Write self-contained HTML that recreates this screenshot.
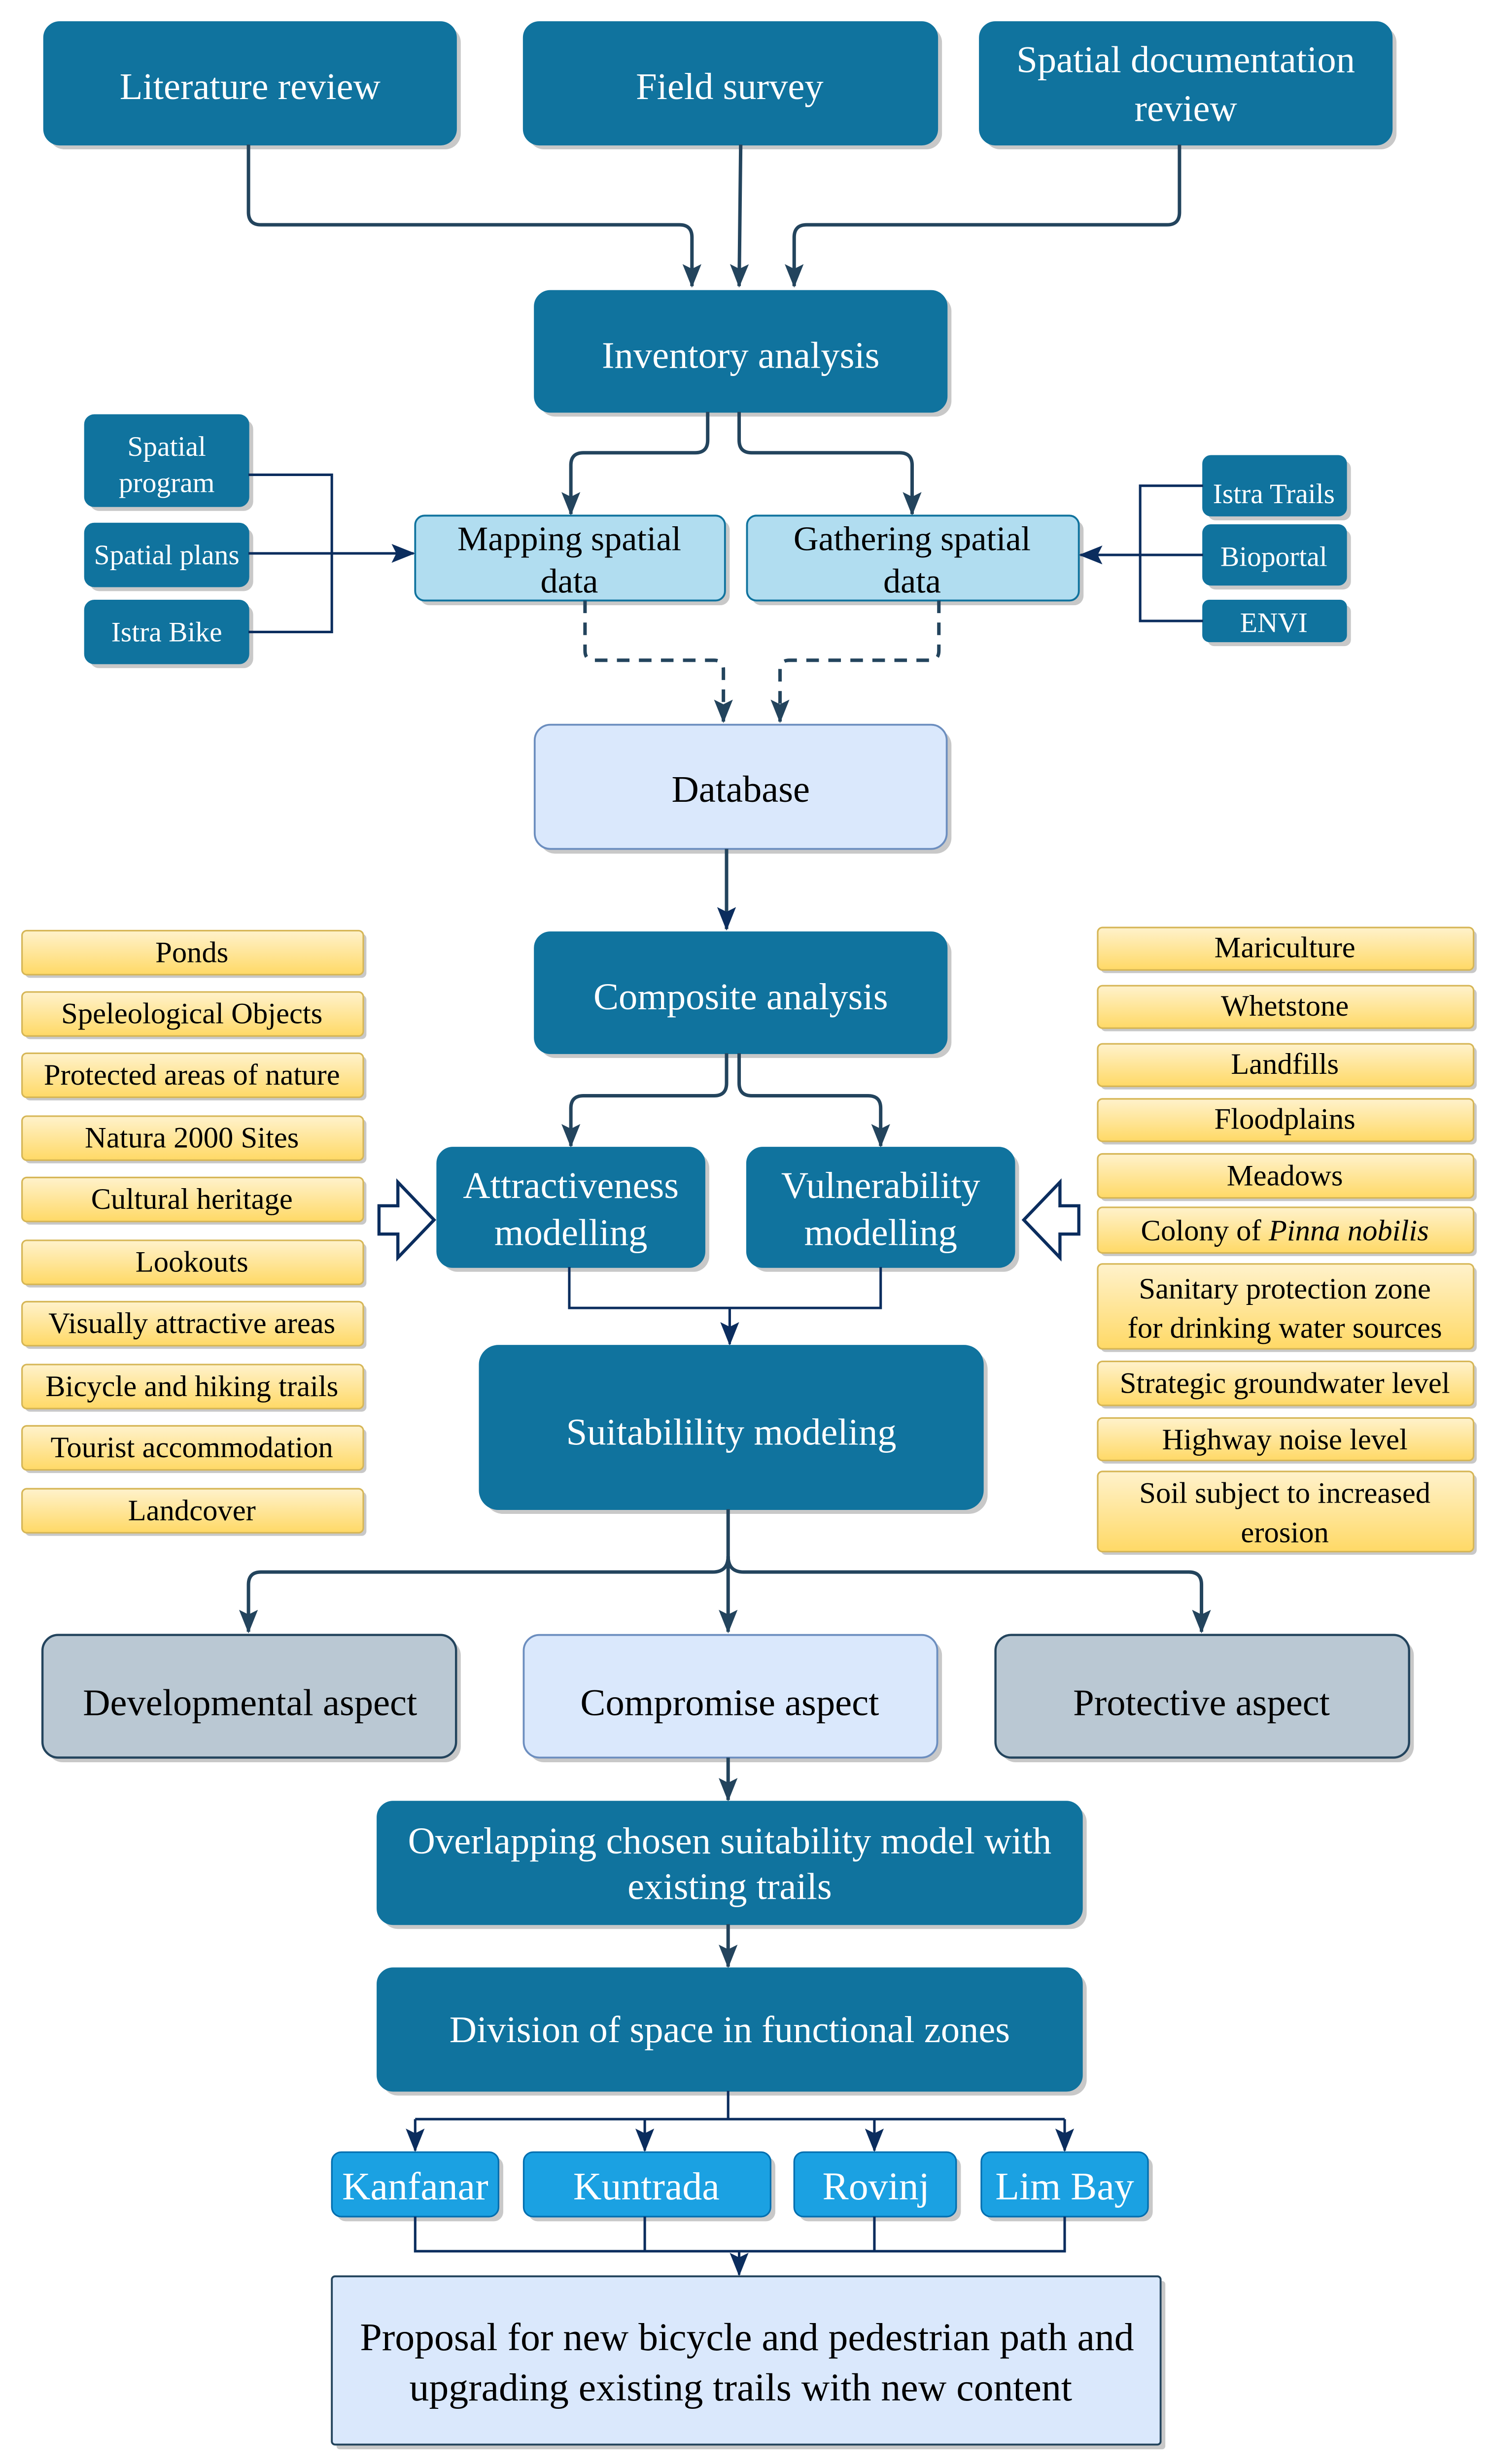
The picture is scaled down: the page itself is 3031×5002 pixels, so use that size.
<!DOCTYPE html>
<html><head><meta charset="utf-8"><style>
html,body{margin:0;padding:0;background:#fff;width:3031px;height:5002px;overflow:hidden;}
svg{display:block;}
text{font-family:"Liberation Serif","Times New Roman",serif;text-anchor:middle;}
.w{fill:#fff;} .k{fill:#000;}
.d{fill:#10739e;stroke:#10739e;}
.ln{fill:none;stroke:#23445d;stroke-width:2.2;}
.ln2{fill:none;stroke:#0b2d5e;stroke-width:1.6;}
.sh{fill:#c8c8c8;}
</style></head><body>
<svg width="3031" height="5002" viewBox="0 0 950 1568" preserveAspectRatio="none" xmlns="http://www.w3.org/2000/svg">
<defs>
<linearGradient id="yg" x1="0" y1="0" x2="0" y2="1"><stop offset="0" stop-color="#fff2cc"/><stop offset="1" stop-color="#ffd966"/></linearGradient>
<marker id="a" markerWidth="16" markerHeight="12" refX="14" refY="6" orient="auto" markerUnits="userSpaceOnUse"><path d="M0,0 L15,6 L0,12 L3,6 Z" fill="#23445d"/></marker>
<marker id="b" markerWidth="16" markerHeight="12" refX="14" refY="6" orient="auto" markerUnits="userSpaceOnUse"><path d="M0,0 L15,6 L0,12 L3,6 Z" fill="#0b2d5e"/></marker>
</defs>

<g>
<rect x="31" y="17" width="262" height="78" rx="10" class="sh"/><rect x="28" y="14" width="262" height="78" rx="10" class="d"/>
<rect x="336" y="17" width="263" height="78" rx="10" class="sh"/><rect x="333" y="14" width="263" height="78" rx="10" class="d"/>
<rect x="626" y="17" width="262" height="78" rx="10" class="sh"/><rect x="623" y="14" width="262" height="78" rx="10" class="d"/>
<text x="159" y="63" font-size="24" class="w">Literature review</text>
<text x="464" y="63" font-size="24" class="w">Field survey</text>
<text x="754" y="46" font-size="24" class="w">Spatial documentation</text>
<text x="754" y="77" font-size="24" class="w">review</text>

<path class="ln" d="M158,92 V135 Q158,143 166,143 H432 Q440,143 440,151 V182" marker-end="url(#a)"/>
<path class="ln" d="M471,92 L470,182" marker-end="url(#a)"/>
<path class="ln" d="M750,92 V135 Q750,143 742,143 H513 Q505,143 505,151 V182" marker-end="url(#a)"/>

<rect x="343" y="188" width="262" height="77" rx="10" class="sh"/><rect x="340" y="185" width="262" height="77" rx="10" class="d"/>
<text x="471" y="234" font-size="24" class="w">Inventory analysis</text>

<path class="ln" d="M450,262 V280 Q450,288 442,288 H371 Q363,288 363,296 V327" marker-end="url(#a)"/>
<path class="ln" d="M470,262 V280 Q470,288 478,288 H572 Q580,288 580,296 V327" marker-end="url(#a)"/>

<rect x="267" y="331" width="197" height="54" rx="6" class="sh"/><rect x="264" y="328" width="197" height="54" rx="6" fill="#b1ddf0" stroke="#10739e" stroke-width="1.2"/>
<rect x="478" y="331" width="211" height="54" rx="6" class="sh"/><rect x="475" y="328" width="211" height="54" rx="6" fill="#b1ddf0" stroke="#10739e" stroke-width="1.2"/>
<text x="362" y="350" font-size="22" class="k">Mapping spatial</text>
<text x="362" y="377" font-size="22" class="k">data</text>
<text x="580" y="350" font-size="22" class="k">Gathering spatial</text>
<text x="580" y="377" font-size="22" class="k">data</text>

<rect x="57" y="267" width="104" height="58" rx="6" class="sh"/><rect x="54" y="264" width="104" height="58" rx="6" class="d"/>
<rect x="57" y="336" width="104" height="40" rx="6" class="sh"/><rect x="54" y="333" width="104" height="40" rx="6" class="d"/>
<rect x="57" y="385" width="104" height="40" rx="6" class="sh"/><rect x="54" y="382" width="104" height="40" rx="6" class="d"/>
<text x="106" y="290" font-size="18" class="w">Spatial</text>
<text x="106" y="313" font-size="18" class="w">program</text>
<text x="106" y="359" font-size="18" class="w">Spatial plans</text>
<text x="106" y="408" font-size="18" class="w">Istra Bike</text>
<path class="ln2" d="M158,302 H211 V402 H158"/>
<path class="ln2" d="M158,352 H263" marker-end="url(#b)"/>

<rect x="768" y="293" width="91" height="38" rx="5" class="sh"/><rect x="765" y="290" width="91" height="38" rx="5" class="d"/>
<rect x="768" y="337" width="91" height="38" rx="5" class="sh"/><rect x="765" y="334" width="91" height="38" rx="5" class="d"/>
<rect x="768" y="385" width="91" height="26" rx="4" class="sh"/><rect x="765" y="382" width="91" height="26" rx="4" class="d"/>
<text x="810" y="320" font-size="18" class="w">Istra Trails</text>
<text x="810" y="360" font-size="18" class="w">Bioportal</text>
<text x="810" y="402" font-size="18" class="w">ENVI</text>
<path class="ln2" d="M765,309 H725 V395 H765"/>
<path class="ln2" d="M765,353 H687" stroke-width="2.4" marker-end="url(#b)"/>

<path class="ln" stroke-dasharray="8,6" d="M372,382 V414 Q372,420 378,420 H454 Q460,420 460,426 V459" marker-end="url(#a)"/>
<path class="ln" stroke-dasharray="8,6" d="M597,382 V414 Q597,420 591,420 H502 Q496,420 496,426 V459" marker-end="url(#a)"/>

<rect x="343" y="464" width="262" height="79" rx="10" class="sh"/><rect x="340" y="461" width="262" height="79" rx="10" fill="#dae8fc" stroke="#6c8ebf" stroke-width="1.2"/>
<text x="471" y="510" font-size="24" class="k">Database</text>
<path class="ln" stroke="#0b1f3a" d="M462,540 V591" marker-end="url(#b)"/>

<rect x="343" y="596" width="262" height="77" rx="10" class="sh"/><rect x="340" y="593" width="262" height="77" rx="10" class="d"/>
<text x="471" y="642" font-size="24" class="w">Composite analysis</text>

<path class="ln" d="M462,670 V689 Q462,697 454,697 H371 Q363,697 363,705 V729" marker-end="url(#a)"/>
<path class="ln" d="M470,670 V689 Q470,697 478,697 H552 Q560,697 560,705 V729" marker-end="url(#a)"/>

<rect x="281" y="733" width="170" height="76" rx="10" class="sh"/><rect x="278" y="730" width="170" height="76" rx="10" class="d"/>
<rect x="478" y="733" width="170" height="76" rx="10" class="sh"/><rect x="475" y="730" width="170" height="76" rx="10" class="d"/>
<text x="363" y="762" font-size="24" class="w">Attractiveness</text>
<text x="363" y="792" font-size="24" class="w">modelling</text>
<text x="560" y="762" font-size="24" class="w">Vulnerability</text>
<text x="560" y="792" font-size="24" class="w">modelling</text>

<path d="M241,767 H253 V752 L276,776 L253,800 V785 H241 Z" fill="#fff" stroke="#0b2d5e" stroke-width="2"/>
<path d="M686,767 H674 V752 L651,776 L674,800 V785 H686 Z" fill="#fff" stroke="#0b2d5e" stroke-width="2"/>

<path class="ln2" stroke-width="2.4" d="M362,806 V832 H560 V806"/>
<path class="ln2" stroke-width="2" d="M464,832 V855" marker-end="url(#b)"/>

<rect x="308" y="859" width="320" height="104" rx="12" class="sh"/><rect x="305" y="856" width="320" height="104" rx="12" class="d"/>
<text x="465" y="919" font-size="24" class="w">Suitabilility modeling</text>

<path class="ln" d="M463,960 V1038" marker-end="url(#a)"/>
<path class="ln" d="M463,990 Q463,1000 453,1000 H166 Q158,1000 158,1008 V1038" marker-end="url(#a)"/>
<path class="ln" d="M463,990 Q463,1000 473,1000 H756 Q764,1000 764,1008 V1038" marker-end="url(#a)"/>

<rect x="30" y="1043" width="263" height="78" rx="10" class="sh"/><rect x="27" y="1040" width="263" height="78" rx="10" fill="#bac8d3" stroke="#23445d" stroke-width="1.4"/>
<rect x="336" y="1043" width="263" height="78" rx="10" class="sh"/><rect x="333" y="1040" width="263" height="78" rx="10" fill="#dae8fc" stroke="#6c8ebf" stroke-width="1.2"/>
<rect x="636" y="1043" width="263" height="78" rx="10" class="sh"/><rect x="633" y="1040" width="263" height="78" rx="10" fill="#bac8d3" stroke="#23445d" stroke-width="1.4"/>
<text x="159" y="1091" font-size="24" class="k">Developmental aspect</text>
<text x="464" y="1091" font-size="24" class="k">Compromise aspect</text>
<text x="764" y="1091" font-size="24" class="k">Protective aspect</text>

<path class="ln" d="M463,1118 V1145" marker-end="url(#a)"/>
<rect x="243" y="1149" width="448" height="78" rx="10" class="sh"/><rect x="240" y="1146" width="448" height="78" rx="10" class="d"/>
<text x="464" y="1179" font-size="24" class="w">Overlapping chosen suitability model with</text>
<text x="464" y="1208" font-size="24" class="w">existing trails</text>

<path class="ln" d="M463,1224 V1251" marker-end="url(#a)"/>
<rect x="243" y="1255" width="448" height="78" rx="10" class="sh"/><rect x="240" y="1252" width="448" height="78" rx="10" class="d"/>
<text x="464" y="1299" font-size="24" class="w">Division of space in functional zones</text>

<path class="ln2" stroke-width="2.4" d="M463,1330 V1348 M264,1348 H677"/>
<path class="ln2" stroke-width="2.2" d="M264,1348 V1368" marker-end="url(#b)"/>
<path class="ln2" stroke-width="2.2" d="M410,1348 V1368" marker-end="url(#b)"/>
<path class="ln2" stroke-width="2.2" d="M556,1348 V1368" marker-end="url(#b)"/>
<path class="ln2" stroke-width="2.2" d="M677,1348 V1368" marker-end="url(#b)"/>

<rect x="214" y="1372" width="106" height="41" rx="6" class="sh"/><rect x="211" y="1369" width="106" height="41" rx="6" fill="#1ba1e2" stroke="#006eaf" stroke-width="1"/>
<rect x="336" y="1372" width="157" height="41" rx="6" class="sh"/><rect x="333" y="1369" width="157" height="41" rx="6" fill="#1ba1e2" stroke="#006eaf" stroke-width="1"/>
<rect x="508" y="1372" width="103" height="41" rx="6" class="sh"/><rect x="505" y="1369" width="103" height="41" rx="6" fill="#1ba1e2" stroke="#006eaf" stroke-width="1"/>
<rect x="627" y="1372" width="106" height="41" rx="6" class="sh"/><rect x="624" y="1369" width="106" height="41" rx="6" fill="#1ba1e2" stroke="#006eaf" stroke-width="1"/>
<text x="264" y="1399" font-size="25" class="w">Kanfanar</text>
<text x="411" y="1399" font-size="25" class="w">Kuntrada</text>
<text x="557" y="1399" font-size="25" class="w">Rovinj</text>
<text x="677" y="1399" font-size="25" class="w">Lim Bay</text>

<path class="ln2" stroke-width="2.4" d="M264,1410 V1432 H677 V1410 M410,1410 V1432 M556,1410 V1432"/>
<path class="ln2" stroke-width="2" d="M470,1432 V1447" marker-end="url(#b)"/>

<rect x="214" y="1451" width="527" height="107" rx="2" class="sh"/><rect x="211" y="1448" width="527" height="107" rx="2" fill="#dae8fc" stroke="#23445d" stroke-width="1.2"/>
<text x="475" y="1495" font-size="25" class="k">Proposal for new bicycle and pedestrian path and</text>
<text x="471" y="1527" font-size="25" class="k">upgrading existing trails with new content</text>

<g stroke="#d6b656" stroke-width="1">
<rect x="16" y="594" width="217" height="28" rx="3" class="sh" stroke="none"/><rect x="14" y="592" width="217" height="28" rx="3" fill="url(#yg)"/>
<rect x="16" y="633" width="217" height="28" rx="3" class="sh" stroke="none"/><rect x="14" y="631" width="217" height="28" rx="3" fill="url(#yg)"/>
<rect x="16" y="672" width="217" height="28" rx="3" class="sh" stroke="none"/><rect x="14" y="670" width="217" height="28" rx="3" fill="url(#yg)"/>
<rect x="16" y="712" width="217" height="28" rx="3" class="sh" stroke="none"/><rect x="14" y="710" width="217" height="28" rx="3" fill="url(#yg)"/>
<rect x="16" y="751" width="217" height="28" rx="3" class="sh" stroke="none"/><rect x="14" y="749" width="217" height="28" rx="3" fill="url(#yg)"/>
<rect x="16" y="791" width="217" height="28" rx="3" class="sh" stroke="none"/><rect x="14" y="789" width="217" height="28" rx="3" fill="url(#yg)"/>
<rect x="16" y="830" width="217" height="28" rx="3" class="sh" stroke="none"/><rect x="14" y="828" width="217" height="28" rx="3" fill="url(#yg)"/>
<rect x="16" y="870" width="217" height="28" rx="3" class="sh" stroke="none"/><rect x="14" y="868" width="217" height="28" rx="3" fill="url(#yg)"/>
<rect x="16" y="909" width="217" height="28" rx="3" class="sh" stroke="none"/><rect x="14" y="907" width="217" height="28" rx="3" fill="url(#yg)"/>
<rect x="16" y="949" width="217" height="28" rx="3" class="sh" stroke="none"/><rect x="14" y="947" width="217" height="28" rx="3" fill="url(#yg)"/>
<rect x="700" y="592" width="239" height="27" rx="3" class="sh" stroke="none"/><rect x="698" y="590" width="239" height="27" rx="3" fill="url(#yg)"/>
<rect x="700" y="629" width="239" height="27" rx="3" class="sh" stroke="none"/><rect x="698" y="627" width="239" height="27" rx="3" fill="url(#yg)"/>
<rect x="700" y="666" width="239" height="27" rx="3" class="sh" stroke="none"/><rect x="698" y="664" width="239" height="27" rx="3" fill="url(#yg)"/>
<rect x="700" y="701" width="239" height="27" rx="3" class="sh" stroke="none"/><rect x="698" y="699" width="239" height="27" rx="3" fill="url(#yg)"/>
<rect x="700" y="736" width="239" height="28" rx="3" class="sh" stroke="none"/><rect x="698" y="734" width="239" height="28" rx="3" fill="url(#yg)"/>
<rect x="700" y="770" width="239" height="29" rx="3" class="sh" stroke="none"/><rect x="698" y="768" width="239" height="29" rx="3" fill="url(#yg)"/>
<rect x="700" y="806" width="239" height="54" rx="3" class="sh" stroke="none"/><rect x="698" y="804" width="239" height="54" rx="3" fill="url(#yg)"/>
<rect x="700" y="868" width="239" height="28" rx="3" class="sh" stroke="none"/><rect x="698" y="866" width="239" height="28" rx="3" fill="url(#yg)"/>
<rect x="700" y="904" width="239" height="27" rx="3" class="sh" stroke="none"/><rect x="698" y="902" width="239" height="27" rx="3" fill="url(#yg)"/>
<rect x="700" y="938" width="239" height="51" rx="3" class="sh" stroke="none"/><rect x="698" y="936" width="239" height="51" rx="3" fill="url(#yg)"/>
</g>
<g font-size="19" class="k">
<text x="122" y="612">Ponds</text>
<text x="122" y="651">Speleological Objects</text>
<text x="122" y="690">Protected areas of nature</text>
<text x="122" y="730">Natura 2000 Sites</text>
<text x="122" y="769">Cultural heritage</text>
<text x="122" y="809">Lookouts</text>
<text x="122" y="848">Visually attractive areas</text>
<text x="122" y="888">Bicycle and hiking trails</text>
<text x="122" y="927">Tourist accommodation</text>
<text x="122" y="967">Landcover</text>
<text x="817" y="609">Mariculture</text>
<text x="817" y="646">Whetstone</text>
<text x="817" y="683">Landfills</text>
<text x="817" y="718">Floodplains</text>
<text x="817" y="754">Meadows</text>
<text x="817" y="789">Colony of <tspan font-style="italic">Pinna nobilis</tspan></text>
<text x="817" y="826">Sanitary protection zone</text>
<text x="817" y="851">for drinking water sources</text>
<text x="817" y="886">Strategic groundwater level</text>
<text x="817" y="922">Highway noise level</text>
<text x="817" y="956">Soil subject to increased</text>
<text x="817" y="981">erosion</text>
</g>
</g>
</svg>
</body></html>
